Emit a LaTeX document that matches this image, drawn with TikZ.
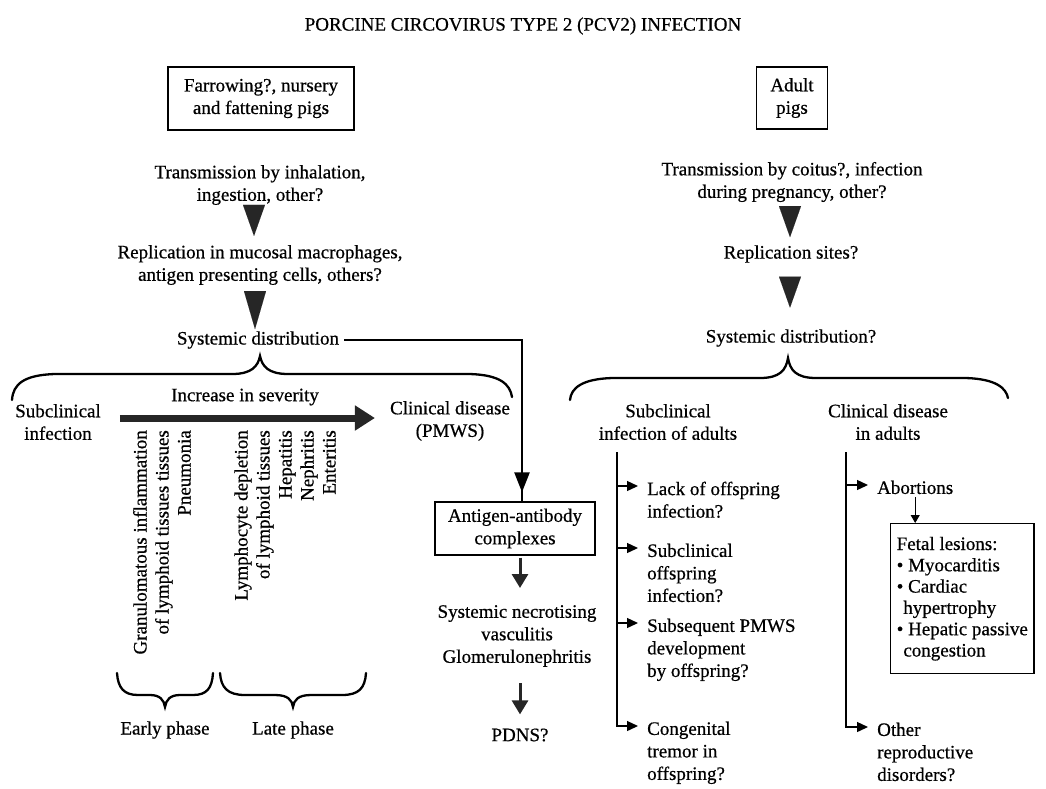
\documentclass[tikz,border=0pt]{standalone}
\usepackage{fontspec}
\setmainfont{Liberation Serif}[FakeBold=0.6]
\usetikzlibrary{arrows.meta,calc,decorations.markings}
\begin{document}
\begin{tikzpicture}[x=1pt,y=-1pt,
  txt/.style={font=\fontsize{19}{22.5}\selectfont, align=center, inner sep=0pt},
  ltxt/.style={txt, align=left, anchor=north west},
  boxed/.style={draw, line width=1.4pt},
  rottxt/.style={txt, rotate=90, anchor=east, text height=13pt, text depth=4pt},
  bigtri/.style={line width=0.01pt, draw=black!85, -{Triangle[length=#1,width=22pt]}},
  medarrow/.style={line width=3pt, draw=black!85, -{Triangle[length=14pt,width=16pt]}},
  sarrow/.style={line width=1.3pt, -{Triangle[length=11pt,width=10pt]}},
  bracepath/.style={line width=2.3pt, line cap=round},
  sevarrow/.style={line width=7pt, draw=black!85, -{Triangle[length=20pt,width=24pt]}},
  sysline/.style={line width=2.5pt, postaction={decorate},
    decoration={markings, mark=at position -9pt with {\arrow{Triangle[length=20pt,width=15pt]}}}}
]
\useasboundingbox (0,0) rectangle (1046,788);

% title
\node[txt, font=\fontsize{19}{21}\selectfont] (title) at (523,26) {PORCINE CIRCOVIRUS TYPE 2 (PCV2) INFECTION};

% top boxes
\node[txt, boxed, minimum width=186pt, minimum height=63pt] (fp) at (261,98.5) {Farrowing?, nursery\\and fattening pigs};
\node[txt, boxed, minimum width=71pt, minimum height=62pt] (ap) at (792,98) {Adult\\pigs};

% left column
\node[txt] (tl1) at (260,185) {Transmission by inhalation,\\ingestion, other?};
\node[txt] (rl1) at (260,265) {Replication in mucosal macrophages,\\antigen presenting cells, others?};
\node[txt] (sd1) at (258,340) {Systemic distribution};
\draw[bigtri=31pt] ($(tl1.south)+(-6,1)$) -- ($(rl1.north)+(-6,-9)$);
\draw[bigtri=38pt] ($(rl1.south)+(-5,6)$) -- ($(sd1.north)+(-3,-2)$);

% right column
\node[txt] (tr2) at (792,182) {Transmission by coitus?, infection\\during pregnancy, other?};
\node[txt] (rs) at (791,254) {Replication sites?};
\node[txt] (sdr) at (791,338) {Systemic distribution?};
\draw[bigtri=31pt] ($(tr2.south)+(-2,5)$) -- ($(rs.north)+(-1,-8)$);
\draw[bigtri=31pt] ($(rs.south)+(-1,14.5)$) -- ($(sdr.north)+(-1,-21.5)$);

% braces
\draw[bracepath] (12,400) .. controls (13,384) and (24,375) .. (55,374) -- (232,374)
  .. controls (252,374) and (258,366) .. (260,356) .. controls (262,366) and (268,374) .. (288,374)
  -- (470,374) .. controls (500,375) and (510,384) .. (512,397);
\draw[bracepath] (570,400) .. controls (571,388) and (582,379) .. (612,378) -- (760,378)
  .. controls (780,378) and (786,370) .. (788,358) .. controls (790,370) and (796,378) .. (816,378)
  -- (966,378) .. controls (996,379) and (1006,388) .. (1008,398);

% severity
\node[txt] (sub) at (58,422) {Subclinical\\infection};
\node[txt] (inc) at (245,397) {Increase in severity};
\node[txt] (clin) at (450,421) {Clinical disease\\(PMWS)};
\draw[sevarrow] ($(sub.east)+(19,-4)$) -- ($(clin.west)+(-15,-3)$);

% rotated lesions
\node[rottxt] (g1) at (142,430) {Granulomatous inflammation};
\node[rottxt] (g2) at (164,430) {of lymphoid tissues tissues};
\node[rottxt] (g3) at (186,430) {Pneumonia};
\node[rottxt] (l1) at (243,430) {Lymphocyte depletion};
\node[rottxt] (l2) at (265,430) {of lymphoid tissues};
\node[rottxt] (l3) at (287,430) {Hepatitis};
\node[rottxt] (l4) at (309,430) {Nephritis};
\node[rottxt] (l5) at (331,430) {Enteritis};

% phase braces
\draw[bracepath] (117,673) .. controls (118,688) and (124,695) .. (138,695) -- (150,695)
  .. controls (160,695) and (164,700) .. (165,707) .. controls (166,700) and (170,695) .. (180,695)
  -- (193,695) .. controls (207,695) and (212,688) .. (213,673);
\draw[bracepath] (220,673) .. controls (221,688) and (228,695) .. (245,695) -- (275,695)
  .. controls (288,695) and (292,700) .. (293,707) .. controls (294,700) and (298,695) .. (311,695)
  -- (342,695) .. controls (359,695) and (365,688) .. (366,673);
\node[txt] (early) at (165,730) {Early phase};
\node[txt] (late) at (293,730) {Late phase};

% centre column
\node[txt, boxed, minimum width=160pt, minimum height=53pt] (ab) at (515,528.5) {Antigen-antibody\\complexes};
\node[txt] (nec) at (517,636) {Systemic necrotising\\vasculitis\\Glomerulonephritis};
\node[txt] (pdns) at (520,735) {PDNS?};
\draw[sysline] ($(sd1.east)+(5,0)$) -| ($(ab.north)+(7,0)$);
\draw[medarrow] ($(ab.south)+(5,2)$) -- ($(ab.south |- nec.north)+(5,-17)$);
\draw[medarrow] ($(nec.south)+(3,16)$) -- ($(nec.south |- pdns.north)+(3,-14)$);

% right lower part
\node[txt] (sa) at (668,422) {Subclinical\\infection of adults};
\node[txt] (cd) at (888,422) {Clinical disease\\in adults};
\coordinate (v1) at (617,452);
\coordinate (v2) at (846,452);
\node[ltxt] (lk) at (647,481.5) {Lack of offspring\\infection?};
\node[ltxt] (sc) at (647,543.5) {Subclinical\\offspring\\infection?};
\node[ltxt] (sp) at (647,618.5) {Subsequent PMWS\\development\\by offspring?};
\node[ltxt] (ct) at (647,721.5) {Congenital\\tremor in\\offspring?};
\draw[sarrow] (v1) |- ($(ct.north west)+(-9,4.5)$);
\draw[sarrow] ($(v1 |- lk.north)+(0,4.5)$) -- ($(lk.north west)+(-9,4.5)$);
\draw[sarrow] ($(v1 |- sc.north)+(0,4.5)$) -- ($(sc.north west)+(-9,4.5)$);
\draw[sarrow] ($(v1 |- sp.north)+(0,4.5)$) -- ($(sp.north west)+(-9,4.5)$);

\node[ltxt] (abo) at (877,480.5) {Abortions};
\node[ltxt] (oth) at (877,722.5) {Other\\reproductive\\disorders?};
\node[ltxt, boxed, inner xsep=6pt, inner ysep=9pt, minimum height=150pt, font=\fontsize{19}{21.3}\selectfont] (fb) at (890,523)
  {Fetal lesions:\\\textbullet\ Myocarditis\\\textbullet\ Cardiac\\\hphantom{\textbullet}hypertrophy\\\textbullet\ Hepatic passive\\\hphantom{\textbullet}congestion};
\draw[sarrow] (v2) |- ($(oth.north west)+(-9,4.5)$);
\draw[sarrow] ($(v2 |- abo.north)+(0,4.5)$) -- ($(abo.north west)+(-9,4.5)$);
\draw[line width=1pt, -{Triangle[length=8pt,width=9pt]}] ($(abo.south)+(0,3)$) -- (abo.south |- fb.north);
\end{tikzpicture}
\end{document}
